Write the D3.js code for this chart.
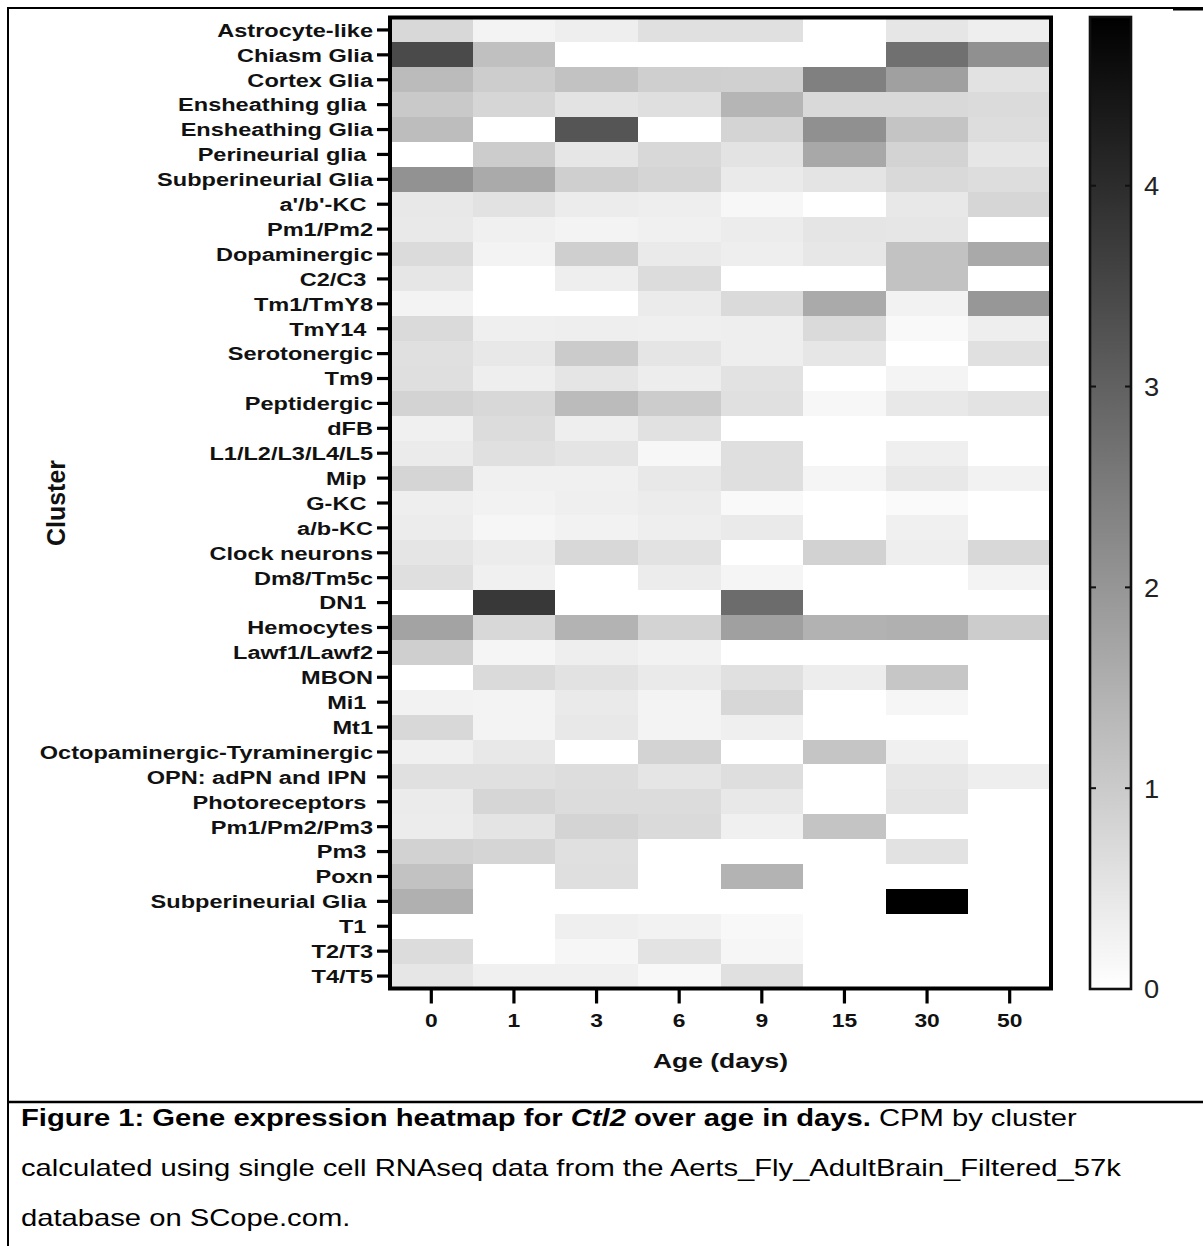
<!DOCTYPE html>
<html>
<head>
<meta charset="utf-8">
<script src="https://cdn.jsdelivr.net/npm/d3@7"></script>
<style>
  html, body { margin: 0; padding: 0; background: #fff; }
  svg { display: block; }
  text { white-space: pre; }
</style>
</head>
<body>
<script>
// Cell-type clusters (rows, top to bottom). Trailing spaces are part of the labels.
const clusters = [
  "Astrocyte-like", "Chiasm Glia", "Cortex Glia", "Ensheathing glia ", "Ensheathing Glia",
  "Perineurial glia ", "Subperineurial Glia", "a'/b'-KC ", "Pm1/Pm2", "Dopaminergic",
  "C2/C3 ", "Tm1/TmY8", "TmY14 ", "Serotonergic", "Tm9", "Peptidergic", "dFB",
  "L1/L2/L3/L4/L5", "Mip ", "G-KC ", "a/b-KC", "Clock neurons", "Dm8/Tm5c", "DN1 ",
  "Hemocytes", "Lawf1/Lawf2", "MBON", "Mi1 ", "Mt1", "Octopaminergic-Tyraminergic",
  "OPN: adPN and lPN ", "Photoreceptors ", "Pm1/Pm2/Pm3", "Pm3 ", "Poxn",
  "Subperineurial Glia ", "T1 ", "T2/T3", "T4/T5"
];

// Age groups (columns)
const ages = ["0", "1", "3", "6", "9", "15", "30", "50"];

// CPM per cluster, one array per age (same order as clusters)
const cpmDay0  = [0.74,3.44,1.29,1.02,1.25,0.00,2.07,0.44,0.42,0.68,0.47,0.23,0.70,0.59,0.61,0.84,0.28,0.38,0.80,0.32,0.36,0.49,0.61,0.00,1.75,0.91,0.00,0.25,0.74,0.28,0.59,0.38,0.36,0.85,1.16,1.50,0.00,0.66,0.47];
const cpmDay1  = [0.23,1.20,0.95,0.78,0.00,0.97,1.61,0.55,0.28,0.23,0.00,0.00,0.30,0.44,0.32,0.74,0.66,0.59,0.28,0.25,0.17,0.36,0.28,3.78,0.74,0.19,0.70,0.23,0.23,0.44,0.59,0.78,0.51,0.80,0.00,0.00,0.00,0.00,0.28];
const cpmDay3  = [0.32,0.00,1.16,0.53,3.23,0.47,0.91,0.36,0.23,0.91,0.32,0.00,0.32,0.99,0.49,1.29,0.32,0.51,0.28,0.30,0.25,0.74,0.00,0.00,1.44,0.32,0.55,0.40,0.44,0.00,0.65,0.66,0.82,0.59,0.61,0.00,0.30,0.17,0.28];
const cpmDay6  = [0.59,0.00,0.91,0.61,0.00,0.74,0.80,0.32,0.28,0.40,0.66,0.38,0.30,0.49,0.34,0.97,0.57,0.15,0.44,0.36,0.32,0.55,0.36,0.00,0.84,0.25,0.40,0.23,0.23,0.84,0.49,0.66,0.70,0.00,0.00,0.00,0.25,0.53,0.13];
const cpmDay9  = [0.59,0.00,0.89,1.40,0.82,0.53,0.40,0.15,0.36,0.32,0.00,0.70,0.32,0.32,0.55,0.59,0.00,0.61,0.61,0.11,0.40,0.00,0.19,2.79,1.80,0.00,0.59,0.76,0.30,0.00,0.63,0.44,0.28,0.00,1.44,0.00,0.13,0.17,0.59];
const cpmDay15 = [0.00,0.00,2.41,0.72,2.11,1.65,0.51,0.00,0.49,0.46,0.00,1.61,0.70,0.47,0.00,0.15,0.00,0.00,0.19,0.00,0.00,0.85,0.00,0.00,1.46,0.00,0.34,0.00,0.00,1.10,0.00,0.00,1.12,0.00,0.00,0.00,0.00,0.00,0.00];
const cpmDay30 = [0.47,2.71,1.80,0.72,1.12,0.84,0.72,0.44,0.47,1.16,1.16,0.25,0.11,0.00,0.21,0.44,0.00,0.30,0.44,0.09,0.28,0.32,0.00,0.00,1.50,0.00,1.08,0.17,0.00,0.28,0.46,0.51,0.00,0.55,0.00,4.84,0.00,0.00,0.00];
const cpmDay50 = [0.32,2.11,0.55,0.68,0.65,0.47,0.65,0.78,0.00,1.63,0.00,1.97,0.32,0.59,0.00,0.53,0.00,0.00,0.25,0.00,0.00,0.74,0.23,0.00,0.97,0.00,0.00,0.00,0.00,0.00,0.32,0.00,0.00,0.00,0.00,0.00,0.00,0.00,0.00];
const cpmByAge = [cpmDay0, cpmDay1, cpmDay3, cpmDay6, cpmDay9, cpmDay15, cpmDay30, cpmDay50];

// Colour bar range and ticks
const colorMax = 4.84;
const colorTicks = [0, 1, 2, 3, 4];

// Text
const xTitle = "Age (days)";
const yTitle = "Cluster";
const captionLines = [
  [
    { t: "Figure 1: Gene expression heatmap for ", w: "bold", s: "normal" },
    { t: "Ctl2", w: "bold", s: "italic" },
    { t: " over age in days.", w: "bold", s: "normal" },
    { t: " CPM by cluster", w: "normal", s: "normal" }
  ],
  [{ t: "calculated using single cell RNAseq data from the Aerts_Fly_AdultBrain_Filtered_57k", w: "normal", s: "normal" }],
  [{ t: "database on SCope.com.", w: "normal", s: "normal" }]
];

const W = 1203, H = 1246;
const FONT = "'Liberation Sans', Arial, Helvetica, sans-serif";
const plot = { left: 390, right: 1051, top: 17.5, bottom: 988.5 };
const bar = { left: 1090, right: 1131, top: 17, bottom: 989 };

const svg = d3.select("body").append("svg")
  .attr("width", W).attr("height", H)
  .attr("viewBox", `0 0 ${W} ${H}`)
  .style("font-family", FONT);

// ---- Page frame (table border around figure and caption) ----
const frame = svg.append("g").attr("stroke", "#000").attr("fill", "none");
frame.append("line").attr("x1", 8).attr("x2", W).attr("y1", 8).attr("y2", 8).attr("stroke-width", 2);
frame.append("line").attr("x1", 1173).attr("x2", W).attr("y1", 9.5).attr("y2", 9.5).attr("stroke-width", 2);
frame.append("line").attr("x1", 8).attr("x2", 8).attr("y1", 7).attr("y2", H).attr("stroke-width", 2);
frame.append("line").attr("x1", 8).attr("x2", W).attr("y1", 1102).attr("y2", 1102).attr("stroke-width", 2.5);

// ---- Scales ----
const rowIdx = clusters.map((d, i) => i);
const x = d3.scaleBand().domain(ages).range([plot.left, plot.right]);
const y = d3.scaleBand().domain(rowIdx).range([plot.top, plot.bottom]);
const color = d3.scaleLinear().domain([0, colorMax]).range(["#ffffff", "#000000"]).clamp(true);

// Flat table for the cells
const cells = [];
ages.forEach((a, j) => clusters.forEach((c, i) => cells.push({ age: a, row: i, v: cpmByAge[j][i] })));

// ---- Heatmap cells ----
svg.append("g").attr("shape-rendering", "crispEdges")
  .selectAll("rect").data(cells).join("rect")
  .attr("x", d => x(d.age))
  .attr("y", d => y(d.row))
  .attr("width", x.bandwidth() + 0.6)
  .attr("height", y.bandwidth() + 0.6)
  .attr("fill", d => color(d.v));

// ---- Y axis (cluster labels) ----
const yAxis = svg.append("g")
  .attr("transform", `translate(${plot.left},0)`)
  .call(d3.axisLeft(y).tickSize(13).tickPadding(4).tickFormat(i => clusters[i]));
yAxis.select(".domain").remove();
yAxis.selectAll(".tick line").attr("stroke", "#000").attr("stroke-width", 3.2);
const yStretch = 1.24;
yAxis.selectAll(".tick text")
  .attr("fill", "#111")
  .style("font-size", "19px").style("font-weight", "bold")
  .attr("x", -17 / yStretch)
  .attr("dy", "0.36em")
  .attr("transform", `scale(${yStretch},1)`);

// ---- X axis (ages) ----
const xAxis = svg.append("g")
  .attr("transform", `translate(0,${plot.bottom})`)
  .call(d3.axisBottom(x).tickSize(15).tickPadding(0));
xAxis.select(".domain").remove();
xAxis.selectAll(".tick line").attr("stroke", "#000").attr("stroke-width", 3.2);
const xStretch = 1.2;
xAxis.selectAll(".tick text")
  .attr("fill", "#111")
  .style("font-size", "19px").style("font-weight", "bold")
  .attr("y", 39).attr("dy", 0)
  .attr("transform", `scale(${xStretch},1)`)
  .attr("x", 0);

// ---- Plot frame ----
svg.append("rect")
  .attr("x", plot.left).attr("y", plot.top)
  .attr("width", plot.right - plot.left).attr("height", plot.bottom - plot.top)
  .attr("fill", "none").attr("stroke", "#000").attr("stroke-width", 4);

// ---- Axis titles ----
svg.append("text")
  .attr("transform", `translate(${(plot.left + plot.right) / 2},1068) scale(1.26,1)`)
  .attr("text-anchor", "middle")
  .style("font-size", "21px").style("font-weight", "bold").attr("fill", "#111")
  .text(xTitle);

svg.append("text")
  .attr("transform", `translate(65,${(plot.top + plot.bottom) / 2}) rotate(-90)`)
  .attr("text-anchor", "middle")
  .style("font-size", "25px").style("font-weight", "bold").attr("fill", "#111")
  .text(yTitle);

// ---- Colour bar ----
const defs = svg.append("defs");
const grad = defs.append("linearGradient").attr("id", "cbar")
  .attr("x1", 0).attr("y1", 1).attr("x2", 0).attr("y2", 0);
d3.range(0, 1.0001, 0.1).forEach(t => {
  grad.append("stop").attr("offset", t).attr("stop-color", color(t * colorMax));
});
const cy = d3.scaleLinear().domain([0, colorMax]).range([bar.bottom, bar.top]);

svg.append("rect")
  .attr("x", bar.left).attr("y", bar.top)
  .attr("width", bar.right - bar.left).attr("height", bar.bottom - bar.top)
  .attr("fill", "url(#cbar)")
  .attr("stroke", "#111").attr("stroke-width", 2.6);

const cTicks = svg.append("g");
cTicks.selectAll("line.l").data(colorTicks.filter(v => v > 0)).join("line")
  .attr("class", "l")
  .attr("x1", bar.left).attr("x2", bar.left + 6)
  .attr("y1", d => cy(d)).attr("y2", d => cy(d))
  .attr("stroke", "#111").attr("stroke-width", 2);
cTicks.selectAll("line.r").data(colorTicks.filter(v => v > 0)).join("line")
  .attr("class", "r")
  .attr("x1", bar.right - 6).attr("x2", bar.right)
  .attr("y1", d => cy(d)).attr("y2", d => cy(d))
  .attr("stroke", "#111").attr("stroke-width", 2);
cTicks.selectAll("text").data(colorTicks).join("text")
  .attr("transform", d => `translate(${bar.right + 13},${cy(d)}) scale(1.05,1)`)
  .attr("dy", "0.36em")
  .style("font-size", "26px").attr("fill", "#222")
  .text(d => d);

// ---- Caption ----
const capBase = [1126, 1176, 1226];
const capStretch = 1.27;
captionLines.forEach((parts, k) => {
  const t = svg.append("text")
    .attr("transform", `translate(21,${capBase[k]}) scale(${capStretch},1)`)
    .style("font-size", "23px").attr("fill", "#000");
  parts.forEach(p => {
    t.append("tspan").text(p.t)
      .style("font-weight", p.w).style("font-style", p.s);
  });
});
</script>
</body>
</html>
